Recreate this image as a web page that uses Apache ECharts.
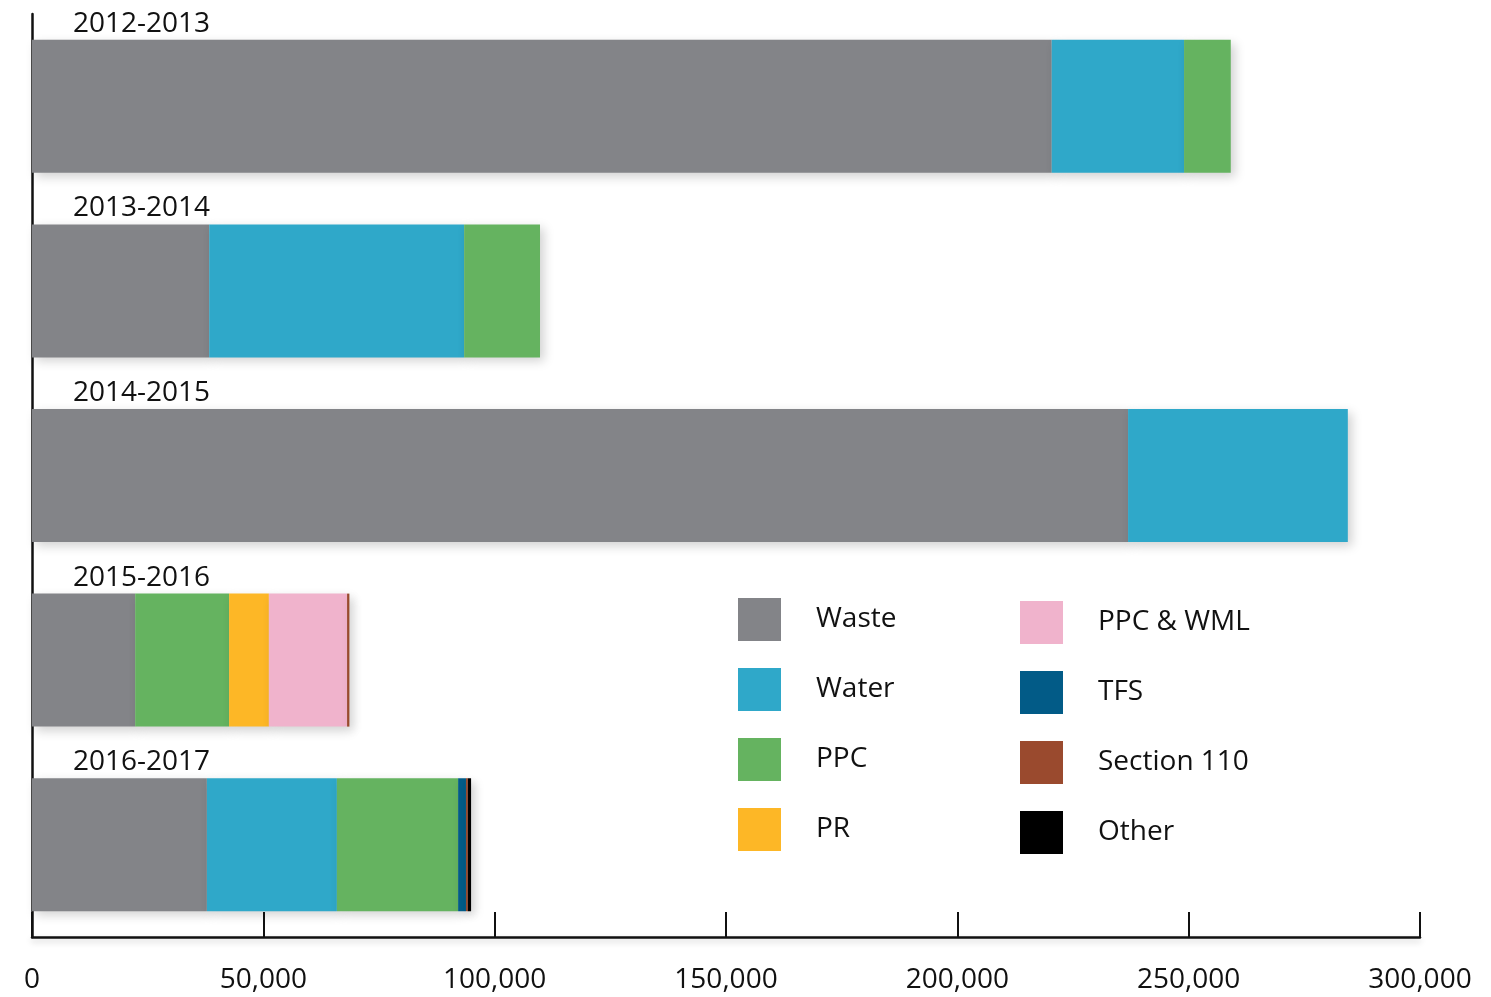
<!DOCTYPE html>
<html>
<head>
<meta charset="utf-8">
<script src="https://cdn.jsdelivr.net/npm/echarts@6/dist/echarts.min.js"></script>
<style>
html,body{margin:0;padding:0;background:#fff;}
#chart{width:1491px;height:997px;}
</style>
</head>
<body>
<div id="chart"></div>
<script>
const categories = ['2012-2013', '2013-2014', '2014-2015', '2015-2016', '2016-2017'];
const seriesNames = ['Waste', 'Water', 'PPC', 'PR', 'PPC & WML', 'TFS', 'Section 110', 'Other'];
const seriesColors = ['#838488', '#2fa8c9', '#65b360', '#fdb726', '#f0b3cc', '#025b87', '#9a4a2e', '#000000'];
const waste     = [220400, 38300, 236900, 22300, 37800];
const water     = [28600, 55100, 47500, null, 28100];
const ppc       = [10100, 16400, null, 20300, 26200];
const pr        = [null, null, null, 8600, null];
const ppcWml    = [null, null, null, 16900, null];
const tfs       = [null, null, null, null, 1700];
const section110= [null, null, null, 500, 400];
const other     = [null, null, null, null, 700];
const xTicks = [0, 50000, 100000, 150000, 200000, 250000, 300000];

const values = [waste, water, ppc, pr, ppcWml, tfs, section110, other];
const FONT = "'Open Sans', 'Noto Sans', sans-serif";

const series = seriesNames.map((name, i) => ({
  name: name,
  type: 'bar',
  stack: 'total',
  barWidth: 133,
  data: values[i],
  itemStyle: {
    color: seriesColors[i],
    shadowBlur: 10,
    shadowColor: 'rgba(0,0,0,0.18)',
    shadowOffsetX: 4,
    shadowOffsetY: 4
  },
  label: i === 0 ? {
    show: true,
    position: [41, -16],
    align: 'left',
    verticalAlign: 'middle',
    formatter: '{b}',
    fontFamily: FONT,
    fontSize: 28,
    color: '#111'
  } : { show: false },
  emphasis: { disabled: true }
}));

const legendCommon = {
  orient: 'vertical',
  itemWidth: 43,
  itemHeight: 43,
  itemGap: 27,
  icon: 'rect',
  textStyle: { fontFamily: FONT, fontSize: 28, color: '#111', padding: [0, 0, 0, 30] }
};

const chart = echarts.init(document.getElementById('chart'));
chart.setOption({
  animation: false,
  backgroundColor: '#fff',
  grid: { left: 32, right: 71, top: 14, bottom: 60, containLabel: false },
  legend: [
    Object.assign({}, legendCommon, { left: 733, top: 593, data: seriesNames.slice(0, 4) }),
    Object.assign({}, legendCommon, { left: 1015, top: 596, data: seriesNames.slice(4) })
  ],
  xAxis: {
    type: 'value',
    min: xTicks[0],
    max: xTicks[xTicks.length - 1],
    interval: xTicks[1] - xTicks[0],
    splitLine: { show: false },
    axisLine: { show: true, lineStyle: { color: '#111', width: 2.5, shadowBlur: 6, shadowColor: 'rgba(0,0,0,0.2)', shadowOffsetY: 3 } },
    axisTick: { show: true, inside: true, length: 25, lineStyle: { color: '#111', width: 2 } },
    axisLabel: {
      margin: 29,
      fontFamily: FONT,
      fontSize: 28,
      color: '#111',
      formatter: v => v.toLocaleString('en-US')
    }
  },
  yAxis: {
    type: 'category',
    inverse: true,
    data: categories,
    axisLine: { show: true, lineStyle: { color: '#111', width: 2.5 } },
    axisTick: { show: false },
    axisLabel: { show: false }
  },
  series: series
});
</script>
</body>
</html>
